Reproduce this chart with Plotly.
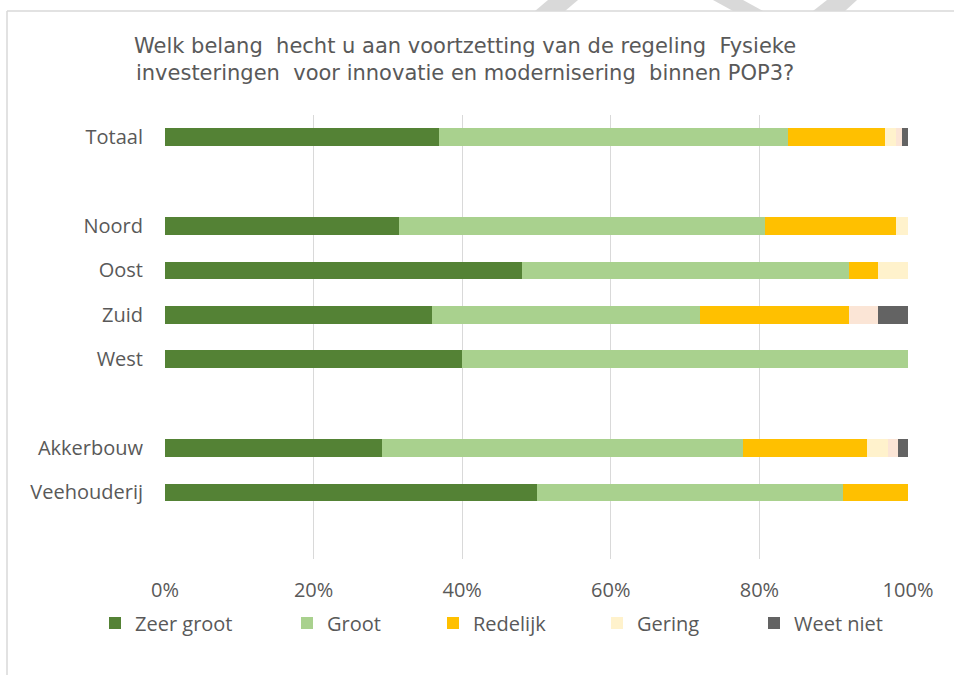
import plotly.graph_objects as go

categories = ["Totaal", " ", "Noord", "Oost", "Zuid", "West", "  ", "Akkerbouw", "Veehouderij", "   "]

zeer_groot = [36.9, None, 31.5, 48.0, 36.0, 40.0, None, 29.2, 50.0, None]
groot = [46.9, None, 49.3, 44.0, 36.0, 60.0, None, 48.6, 41.3, None]
redelijk = [13.1, None, 17.6, 4.0, 20.0, 0.0, None, 16.7, 8.7, None]
gering = [1.5, None, 1.6, 4.0, 0.0, 0.0, None, 2.8, 0.0, None]
zeer_gering = [0.8, None, 0.0, 0.0, 4.0, 0.0, None, 1.4, 0.0, None]
weet_niet = [0.8, None, 0.0, 0.0, 4.0, 0.0, None, 1.4, 0.0, None]

x_ticks = [0, 20, 40, 60, 80, 100]
x_tick_labels = ["0%", "20%", "40%", "60%", "80%", "100%"]

title_text = ("Welk belang  hecht u aan voortzetting van de regeling  Fysieke<br>"
              "investeringen  voor innovatie en modernisering  binnen POP3?")

W, H = 954, 675
L, R, T, B = 165, 908, 115, 559


def px(x):
    return (x - L) / (R - L)


def py(y):
    return (B - y) / (B - T)


series = [
    ("Zeer groot", zeer_groot, "#548235", "legend", 135),
    ("Groot", groot, "#A9D18E", "legend2", 327),
    ("Redelijk", redelijk, "#FFC000", "legend3", 473),
    ("Gering", gering, "#FFF2CC", "legend4", 637),
    ("Zeer gering", zeer_gering, "#FBE5D6", None, None),
    ("Weet niet", weet_niet, "#636363", "legend5", 794),
]

fig = go.Figure()
legends = {}
for name, vals, color, leg, text_x in series:
    fig.add_trace(go.Bar(
        y=categories, x=vals, name=name, orientation="h",
        marker=dict(color=color, line=dict(width=0)),
        showlegend=leg is not None,
        legend=leg if leg else "legend",
        hovertemplate="%{y}: %{x}%<extra>" + name + "</extra>",
    ))
    if leg:
        legends[leg] = dict(
            x=px(text_x - 40), xanchor="left", y=py(623), yanchor="middle",
            orientation="h", bgcolor="rgba(0,0,0,0)",
            font=dict(family="Open Sans", size=20, color="#595959"),
        )

fig.update_layout(
    barmode="stack", bargap=0.6,
    width=W, height=H,
    margin=dict(l=L, r=W - R, t=T, b=H - B),
    paper_bgcolor="white", plot_bgcolor="white",
    **legends,
)

fig.add_annotation(
    text=title_text, showarrow=False,
    xref="paper", yref="paper", x=px(465), y=py(32),
    xanchor="center", yanchor="top", align="center",
    font=dict(family="DejaVu Sans", size=21, color="#595959"),
)

fig.update_xaxes(
    range=[0, 100], tickvals=x_ticks, ticktext=x_tick_labels,
    showgrid=True, gridcolor="#D9D9D9", gridwidth=1,
    zeroline=False, showline=False,
    ticklabelstandoff=17,
    tickfont=dict(family="Open Sans", size=20, color="#595959"),
)
fig.update_yaxes(
    categoryorder="array", categoryarray=categories,
    autorange="reversed", showgrid=False, zeroline=False, showline=False,
    ticklabelstandoff=21,
    tickfont=dict(family="Open Sans", size=20, color="#595959"),
)

# chart border (left and top edge visible) and watermark fragments above it
border = "#D9D9D9"
fig.add_shape(type="line", xref="paper", yref="paper",
              x0=px(7), x1=px(7), y0=py(11), y1=py(H + 5),
              line=dict(color=border, width=1.5))
fig.add_shape(type="line", xref="paper", yref="paper",
              x0=px(7), x1=px(W + 5), y0=py(11), y1=py(11),
              line=dict(color=border, width=1.5))
for poly in [[(535, 11), (565, 11), (578, 0), (548, 0)],
             [(713, 0), (743, 0), (763, 11), (733, 11)],
             [(813, 11), (845, 11), (857, 0), (827, 0)]]:
    path = "M " + " L ".join(f"{px(a)},{py(b)}" for a, b in poly) + " Z"
    fig.add_shape(type="path", xref="paper", yref="paper", path=path,
                  fillcolor=border, line=dict(width=0))

# drop the browser's default body margin so the figure fills the window
fig.write_html("out.html", config={"displayModeBar": False},
               post_script="document.body.style.margin = '0';")
